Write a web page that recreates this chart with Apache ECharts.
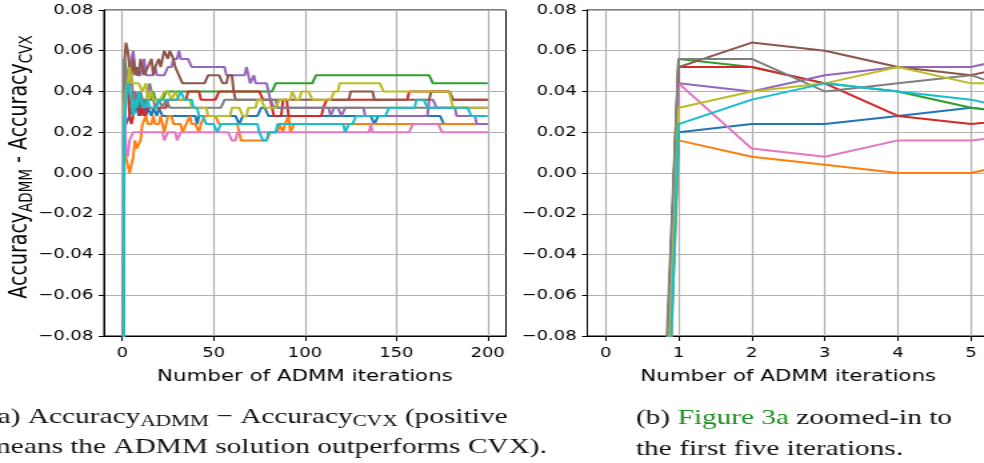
<!DOCTYPE html>
<html>
<head>
<meta charset="utf-8">
<script src="https://cdn.jsdelivr.net/npm/echarts@6/dist/echarts.min.js"></script>
<style>
  html, body { margin: 0; padding: 0; background: #fff; overflow: hidden; }
  /* the figure is stretched sideways, so draw narrow and scale */
  #chart { width: 738px; height: 463px; transform: scaleX(1.3333); transform-origin: 0 0; }
</style>
</head>
<body>
<div id="chart"></div>
<script>
  const FONT = 'DejaVu Sans';
  const SERIF = 'Liberation Serif';
  const lastIter = 200;

  const colors = ['#1f77b4', '#ff7f0e', '#2ca02c', '#d62728', '#9467bd',
                  '#8c564b', '#e377c2', '#7f7f7f', '#bcbd22', '#17becf'];

  // value at iteration 0 (far below the axis)
  const startValues = [-0.90, -0.95, -0.85, -0.85, -0.88, -0.85, -0.88, -0.80, -0.90, -1.00];

  // [first iteration, value] - value holds until the next entry
  const stepsBlue = [[1,.020],[2,.024],[4,.028],[5,.032],[6,.028],[7,.036],[8,.032],[9,.028],[10,.032],[12,.036],
    [13,.028],[14,.032],[16,.028],[17,.032],[19,.028],[20,.032],[22,.028],[41,.024],[42,.028],[64,.024],[66,.028],
    [76,.032],[80,.028],[138,.024],[140,.028],[176,.024]];
  const stepsOrange = [[1,.016],[2,.008],[3,.004],[4,0],[6,.008],[7,.016],[8,.012],[10,.016],[11,.024],[13,.028],
    [14,.024],[17,.028],[18,.024],[21,.028],[23,.020],[25,.028],[28,.024],[33,.020],[35,.024],[37,.028],[38,.024],
    [42,.020],[43,.024],[45,.028],[53,.024],[65,.016],[81,.020],[86,.024],[88,.020],[89,.024],[91,.028],[92,.020],[94,.024]];
  const stepsGreen = [[1,.056],[2,.052],[3,.044],[4,.040],[5,.032],[6,.028],[7,.032],[8,.036],[9,.032],[10,.036],
    [17,.040],[18,.036],[24,.040],[84,.044],[106,.048],[170,.044]];
  const stepsRed = [[1,.052],[3,.044],[4,.028],[5,.024],[6,.028],[7,.040],[8,.036],[9,.032],[10,.028],[11,.032],
    [12,.028],[14,.032],[25,.036],[36,.040],[43,.036],[53,.040],[77,.036],[83,.028],[88,.036],[91,.028],[110,.032],
    [112,.036],[157,.040],[181,.036]];
  const stepsPurple = [[1,.044],[2,.040],[3,.048],[4,.052],[6,.060],[7,.052],[8,.048],[12,.056],[13,.048],[18,.052],
    [19,.048],[25,.052],[28,.056],[31,.060],[32,.056],[38,.052],[57,.048],[68,.052],[69,.048],[70,.044],[72,.048],
    [73,.044],[80,.040],[81,.036],[83,.032],[114,.028],[116,.032],[120,.028],[122,.032],[133,.028],[168,.036],
    [172,.032],[183,.028],[194,.024]];
  const stepsBrown = [[1,.052],[2,.064],[3,.060],[4,.052],[5,.048],[6,.056],[7,.048],[8,.052],[9,.048],[10,.056],
    [11,.052],[12,.048],[14,.052],[16,.056],[17,.048],[18,.052],[20,.056],[21,.052],[23,.060],[25,.056],[26,.060],
    [28,.056],[29,.052],[31,.048],[33,.044],[47,.048],[55,.044],[58,.048],[61,.040],[62,.036],[125,.040],[138,.036],
    [169,.040],[181,.036]];
  const stepsPink = [[1,.044],[2,.012],[3,.008],[4,.016],[6,.020],[23,.016],[25,.020],[30,.016],[32,.020],[60,.016],
    [63,.020],[136,.024],[137,.020],[159,.024],[175,.020]];
  const stepsGray = [[1,.056],[3,.040],[4,.044],[5,.048],[6,.036],[7,.040],[8,.032],[9,.036],[10,.040],[11,.036],
    [13,.032],[14,.040],[15,.044],[17,.036],[18,.032],[20,.036],[22,.032],[24,.036],[26,.032],[56,.036],[85,.032]];
  const stepsYellow = [[1,.032],[2,.040],[3,.044],[4,.052],[5,.044],[11,.040],[13,.044],[14,.036],[16,.040],[17,.036],
    [23,.040],[27,.036],[29,.040],[31,.036],[38,.032],[47,.028],[60,.032],[66,.028],[69,.032],[74,.036],[78,.032],
    [86,.036],[93,.040],[95,.036],[98,.040],[104,.036],[116,.040],[119,.044],[143,.040],[181,.032]];
  const stepsCyan = [[1,.024],[2,.036],[3,.044],[4,.040],[5,.036],[6,.028],[7,.036],[8,.032],[9,.040],[10,.036],
    [12,.032],[14,.036],[15,.032],[20,.036],[32,.040],[34,.036],[39,.032],[42,.028],[46,.024],[52,.020],[54,.024],
    [75,.020],[77,.016],[80,.020],[85,.024],[122,.020],[124,.024],[128,.028],[146,.032],[161,.036],[167,.032],[191,.028]];

  const allSteps = [stepsBlue, stepsOrange, stepsGreen, stepsRed, stepsPurple,
                    stepsBrown, stepsPink, stepsGray, stepsYellow, stepsCyan];

  const xTicksLeft = [0, 50, 100, 150, 200];
  const xTicksRight = [0, 1, 2, 3, 4, 5];

  function expand(start, steps) {
    const pts = [[0, start]];
    let k = 0;
    for (let i = 1; i <= lastIter; i++) {
      while (k + 1 < steps.length && steps[k + 1][0] <= i) k++;
      pts.push([i, steps[k][1]]);
    }
    return pts;
  }

  function fmtY(v) {
    if (Math.abs(v) < 1e-9) return '0.00';
    return (v < 0 ? '\u2212' : '') + Math.abs(v).toFixed(2);
  }

  function xAxisFor(gridIndex, min, max, ticks) {
    return {
      type: 'value', gridIndex: gridIndex, min: min, max: max,
      name: 'Number of ADMM iterations', nameLocation: 'middle', nameGap: 33,
      nameMoveOverlap: false,
      nameTextStyle: { color: '#000', fontSize: 16, fontFamily: FONT },
      axisLine: { show: true, onZero: false, lineStyle: { color: '#000', width: 1 } },
      axisTick: { show: true, inside: false, length: 5, customValues: ticks, lineStyle: { color: '#000' } },
      axisLabel: { margin: 10, color: '#000', fontSize: 13.5, fontFamily: FONT, customValues: ticks },
      splitLine: { show: true, lineStyle: { color: '#b0b0b0', width: 1.2 } }
    };
  }

  function yAxisFor(gridIndex) {
    return {
      type: 'value', gridIndex: gridIndex, min: -0.08, max: 0.08, interval: 0.02,
      axisLine: { show: true, onZero: false, lineStyle: { color: '#000', width: 1 } },
      axisTick: { show: true, inside: false, length: 4, lineStyle: { color: '#000' } },
      axisLabel: { margin: 8, color: '#000', fontSize: 13.5, fontFamily: FONT, formatter: fmtY },
      splitLine: { show: true, lineStyle: { color: '#b0b0b0', width: 1.2 } }
    };
  }

  const series = [];
  allSteps.forEach(function (steps, i) {
    const pts = expand(startValues[i], steps);
    [0, 1].forEach(function (g) {
      series.push({
        type: 'line', xAxisIndex: g, yAxisIndex: g,
        data: g === 0 ? pts : pts.slice(0, 8),
        showSymbol: false, clip: true, silent: true,
        lineStyle: { color: colors[i], width: 2 },
        itemStyle: { color: colors[i] }
      });
    });
  });

  const chart = echarts.init(document.getElementById('chart'));
  chart.setOption({
    animation: false,
    backgroundColor: '#fff',
    grid: [
      { left: 78, top: 10, width: 301.5, height: 326, show: true, borderColor: '#000', borderWidth: 1, outerBoundsMode: 'none' },
      { left: 440.5, top: 10, width: 301.5, height: 326, show: true, borderColor: '#000', borderWidth: 1, outerBoundsMode: 'none' }
    ],
    xAxis: [xAxisFor(0, -10, 210, xTicksLeft), xAxisFor(1, -0.25, 5.25, xTicksRight)],
    yAxis: [yAxisFor(0), yAxisFor(1)],
    series: series,
    graphic: [
      {
        type: 'text', x: 15, y: 167, rotation: Math.PI / 2, silent: true,
        style: {
          text: '{b|Accuracy}{s|ADMM}{b| - Accuracy}{s|CVX}',
          align: 'center', verticalAlign: 'middle', fill: '#000',
          rich: {
            b: { fontSize: 19, fontFamily: FONT, lineHeight: 24, fill: '#000' },
            s: { fontSize: 13.5, fontFamily: FONT, lineHeight: 13, verticalAlign: 'bottom', fill: '#000' }
          }
        }
      },
      {
        type: 'text', x: -9, y: 417, silent: true,
        style: {
          text: '{r|(a) Accuracy}{s|ADMM}{r| \u2212 Accuracy}{s|CVX}{r| (positive}',
          align: 'left', verticalAlign: 'middle', fill: '#111',
          rich: {
            r: { fontSize: 22, fontFamily: SERIF, lineHeight: 26, fill: '#111' },
            s: { fontSize: 16, fontFamily: SERIF, lineHeight: 14, verticalAlign: 'bottom', fill: '#111' }
          }
        }
      },
      {
        type: 'text', x: -9, y: 447, silent: true,
        style: { text: 'means the ADMM solution outperforms CVX).', align: 'left', verticalAlign: 'middle',
                 fill: '#111', font: '22px "Liberation Serif"' }
      },
      {
        type: 'text', x: 477, y: 418, silent: true,
        style: {
          text: '{r|(b) }{g|Figure 3a}{r| zoomed-in to}',
          align: 'left', verticalAlign: 'middle', fill: '#111',
          rich: {
            r: { fontSize: 22, fontFamily: SERIF, lineHeight: 26, fill: '#111' },
            g: { fontSize: 22, fontFamily: SERIF, lineHeight: 26, fill: '#1f8f1f' }
          }
        }
      },
      {
        type: 'text', x: 477, y: 449, silent: true,
        style: { text: 'the first five iterations.', align: 'left', verticalAlign: 'middle',
                 fill: '#111', font: '22px "Liberation Serif"' }
      }
    ]
  });
</script>
</body>
</html>
